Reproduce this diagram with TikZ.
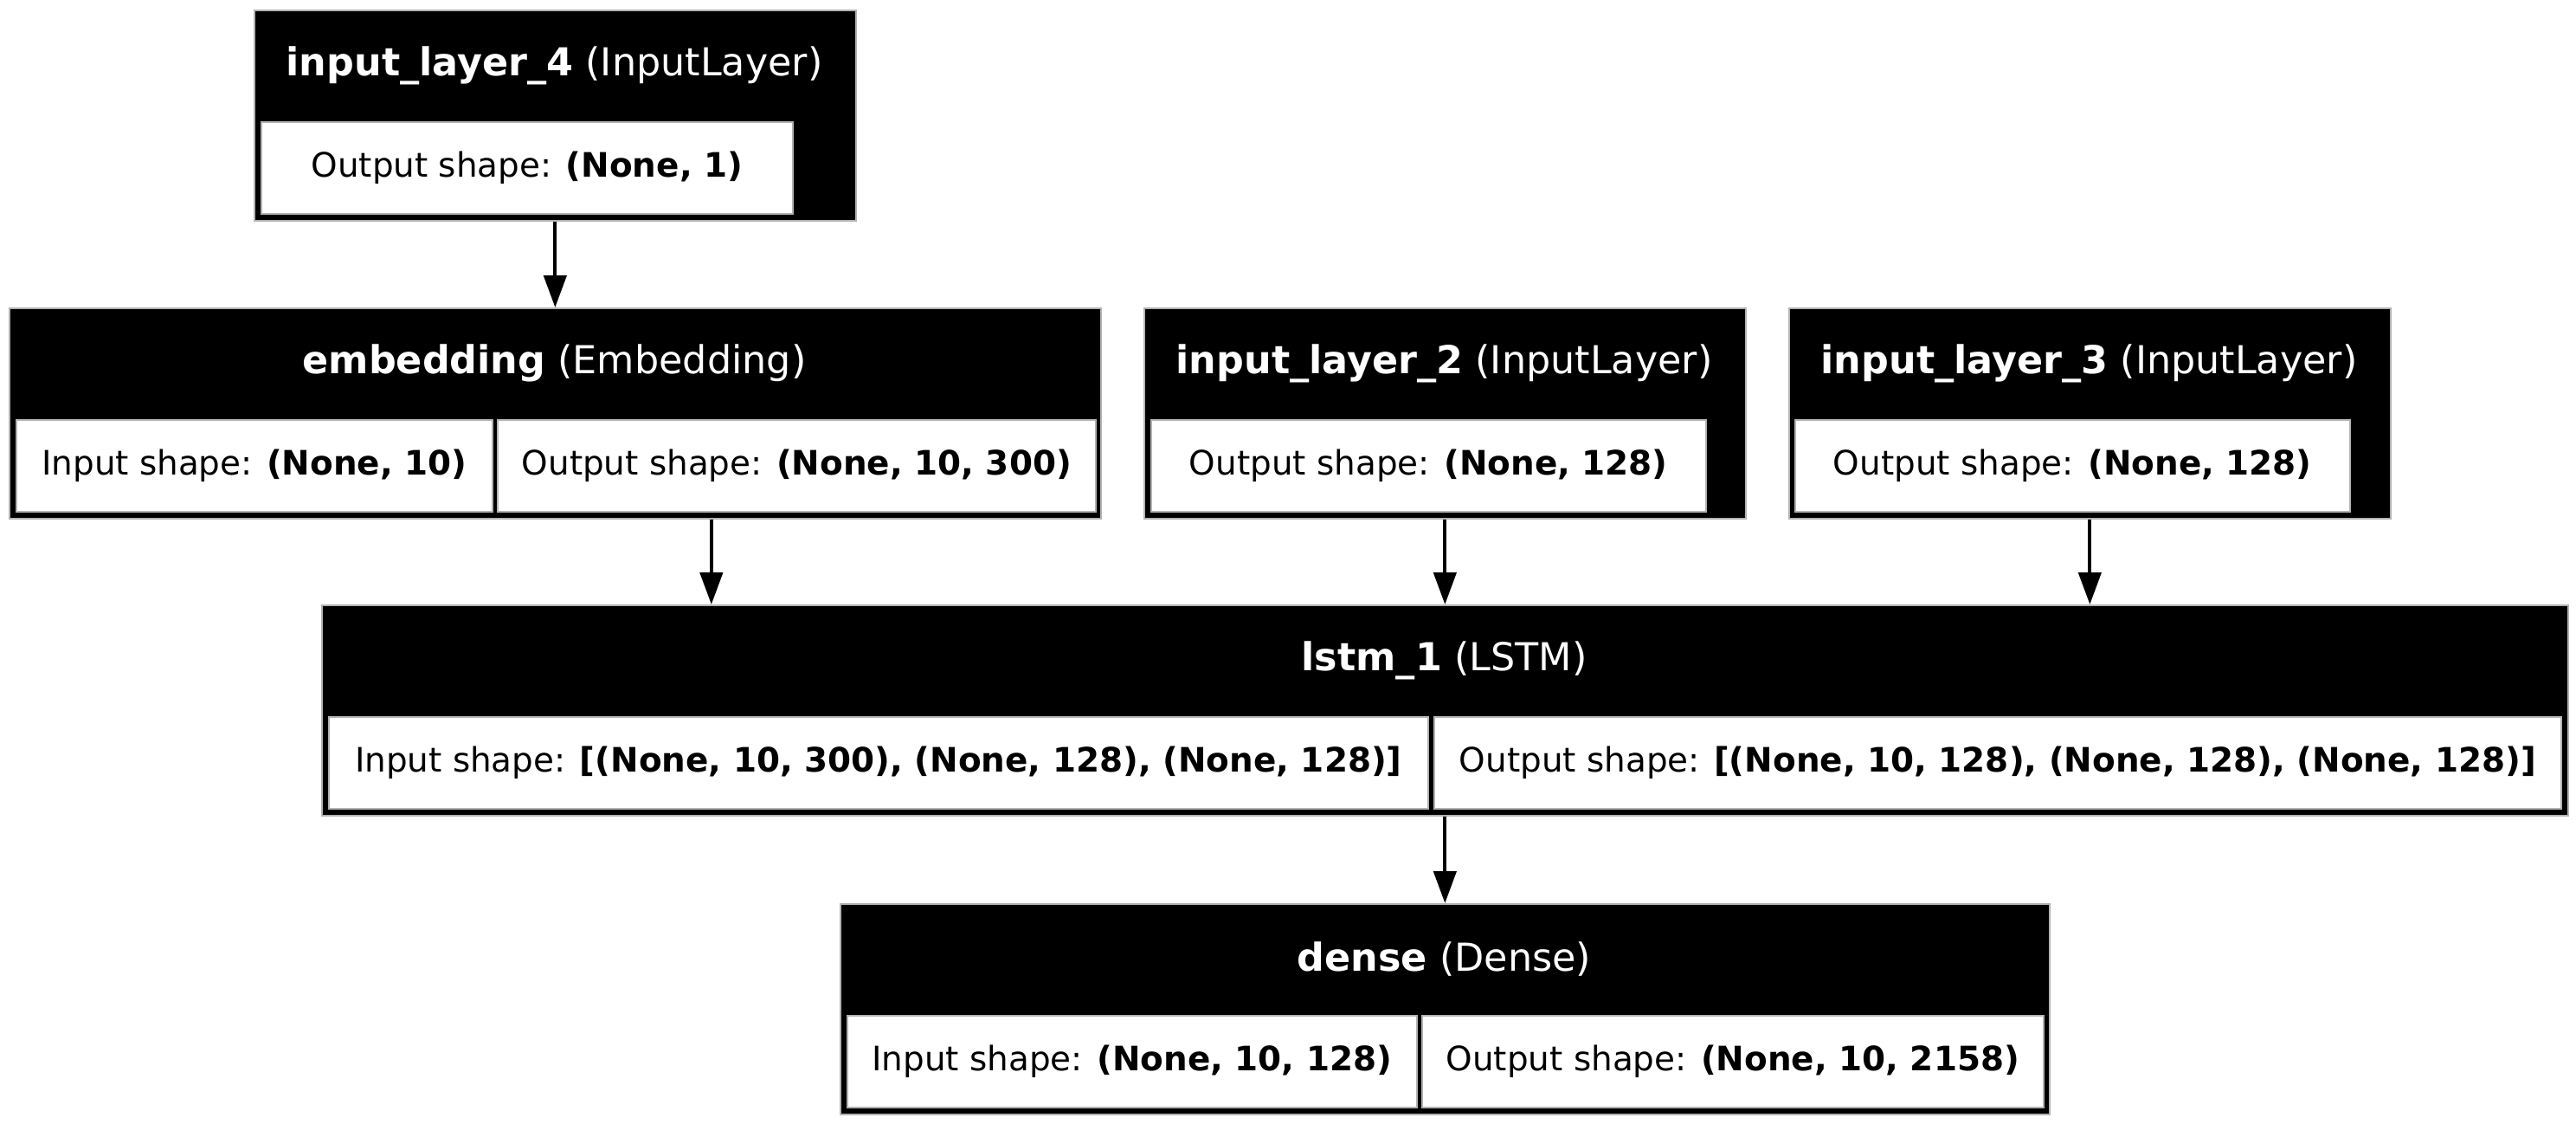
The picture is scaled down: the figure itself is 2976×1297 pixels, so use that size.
\documentclass[tikz,border=0pt]{standalone}
\usepackage{fontspec}
\setmainfont{DejaVu Sans}
\usetikzlibrary{arrows.meta}
\def\px{0.36pt}
\tikzset{
    layer-box/.style = {draw=gray!60, fill=black, line width=0.6pt, rectangle, anchor=north west, inner sep=0pt, minimum height=243*\px},
    layer-title/.style = {text=white, inner sep=0pt, font=\fontsize{16}{19}\selectfont},
    shape-cell/.style = {draw=gray!60, fill=white, line width=0.6pt, rectangle, anchor=north west, inner sep=0pt, minimum height=106*\px},
    flow/.style = {-{Triangle[length=13.3pt, width=9.4pt]}, line width=1.44pt},
}

\begin{document}
\begin{tikzpicture}[x=\px, y=-\px, every node/.style={font=\fontsize{14}{17}\selectfont}]
\useasboundingbox (0,0) rectangle (2976,1297);

% input_layer_4
\node[layer-box, minimum width=695*\px] (inp4) at (293,11) {};
\node[layer-title] (inp4-title) at (640.5,75.5) {\textbf{input\_layer\_4} (InputLayer)};
\node[shape-cell, minimum width=614*\px] (inp4-out) at (301,140) {Output shape: \textbf{(None, 1)}};

% embedding
\node[layer-box, minimum width=1261*\px] (emb) at (10,355) {};
\node[layer-title] (emb-title) at (640.5,419.5) {\textbf{embedding} (Embedding)};
\node[shape-cell, minimum width=550*\px] (emb-in) at (18,484) {Input shape: \textbf{(None, 10)}};
\node[shape-cell, minimum width=691*\px] (emb-out) at (574,484) {Output shape: \textbf{(None, 10, 300)}};

% input_layer_2
\node[layer-box, minimum width=695*\px] (inp2) at (1321,355) {};
\node[layer-title] (inp2-title) at (1668.5,419.5) {\textbf{input\_layer\_2} (InputLayer)};
\node[shape-cell, minimum width=641*\px] (inp2-out) at (1329,484) {Output shape: \textbf{(None, 128)}};

% input_layer_3
\node[layer-box, minimum width=695*\px] (inp3) at (2066,355) {};
\node[layer-title] (inp3-title) at (2413.5,419.5) {\textbf{input\_layer\_3} (InputLayer)};
\node[shape-cell, minimum width=641*\px] (inp3-out) at (2073,484) {Output shape: \textbf{(None, 128)}};

% lstm_1
\node[layer-box, minimum width=2595*\px] (lstm) at (371,698) {};
\node[layer-title] (lstm-title) at (1668.5,762.5) {\textbf{lstm\_1} (LSTM)};
\node[shape-cell, minimum width=1270*\px] (lstm-in) at (379,827) {Input shape: \textbf{[(None, 10, 300), (None, 128), (None, 128)]}};
\node[shape-cell, minimum width=1302*\px] (lstm-out) at (1656,827) {Output shape: \textbf{[(None, 10, 128), (None, 128), (None, 128)]}};

% dense
\node[layer-box, minimum width=1397*\px] (dense) at (970,1043) {};
\node[layer-title] (dense-title) at (1668.5,1107.5) {\textbf{dense} (Dense)};
\node[shape-cell, minimum width=658*\px] (dense-in) at (978,1172) {Input shape: \textbf{(None, 10, 128)}};
\node[shape-cell, minimum width=718*\px] (dense-out) at (1642,1172) {Output shape: \textbf{(None, 10, 2158)}};

% connections
\draw[flow] (inp4.south) -- (emb.north);
\draw[flow] ([xshift=180.5*\px]emb.south) -- ([xshift=180.5*\px]emb.south |- lstm.north);
\draw[flow] (inp2.south) -- (inp2.south |- lstm.north);
\draw[flow] (inp3.south) -- (inp3.south |- lstm.north);
\draw[flow] (lstm.south) -- (dense.north);
\end{tikzpicture}
\end{document}
